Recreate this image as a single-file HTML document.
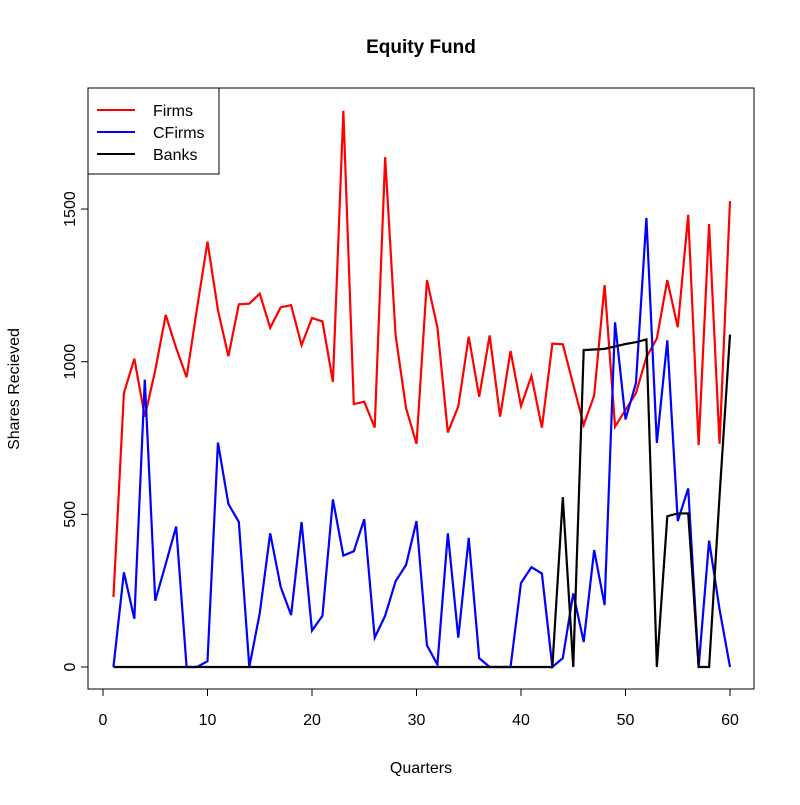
<!DOCTYPE html>
<html><head><meta charset="utf-8"><style>
body{margin:0;background:#fff}
svg text{font-family:"Liberation Sans",Arial,sans-serif;fill:#000}
</style></head><body>
<svg id="chart" width="800" height="800" viewBox="0 0 800 800">
<rect width="800" height="800" fill="#fff"/>
<text x="421" y="53" font-size="19" font-weight="bold" text-anchor="middle">Equity Fund</text>
<rect x="88" y="88" width="666" height="601" fill="none" stroke="#000" stroke-width="1"/>
<g id="xaxis"></g>
<g id="yaxis"></g>
<text x="421" y="773" font-size="16" text-anchor="middle">Quarters</text>
<text transform="translate(19,389) rotate(-90)" font-size="16" text-anchor="middle">Shares Recieved</text>
<g id="series"></g>
<g>
<rect x="88" y="88" width="131" height="86" fill="#fff" stroke="#000" stroke-width="1"/>
<line x1="97" y1="110" x2="135" y2="110" stroke="#f00" stroke-width="2"/>
<text x="153" y="116" font-size="16">Firms</text>
<line x1="97" y1="132" x2="135" y2="132" stroke="#00f" stroke-width="2"/>
<text x="153" y="138" font-size="16">CFirms</text>
<line x1="97" y1="154" x2="135" y2="154" stroke="#000" stroke-width="2"/>
<text x="153" y="160" font-size="16">Banks</text>
</g>
</svg>
<script>
const firms=[229,897,1010,820,972,1153,1045,949,1175,1393,1169,1018,1188,1190,1223,1111,1178,1185,1054,1143,1132,934,1822,861,869,784,1670,1086,848,731,1267,1113,768,854,1082,885,1086,820,1035,855,953,784,1059,1057,925,793,889,1251,787,842,897,1015,1076,1267,1113,1481,727,1451,731,1526];
const cfirms=[0,310,158,941,217,337,460,0,0,19,735,534,475,0,176,438,263,170,475,119,168,549,365,379,484,96,168,281,334,478,71,8,438,96,423,29,0,0,0,275,327,306,0,29,241,82,383,203,1129,811,930,1471,734,1070,478,585,0,414,189,0];
const banks=[0,0,0,0,0,0,0,0,0,0,0,0,0,0,0,0,0,0,0,0,0,0,0,0,0,0,0,0,0,0,0,0,0,0,0,0,0,0,0,0,0,0,0,556,0,1038,1040,1042,1050,1058,1064,1073,0,494,503,503,0,0,560,1089];
const xTicks=[0,10,20,30,40,50,60];
const yTicks=[0,500,1000,1500];
const NS="http://www.w3.org/2000/svg";
function xs(v){return 103+v*10.45;}
function ys(v){return 667-v*0.3053;}
const xa=document.getElementById('xaxis');
let l=document.createElementNS(NS,'line');
l.setAttribute('x1',xs(0));l.setAttribute('x2',xs(60));l.setAttribute('y1',689);l.setAttribute('y2',689);l.setAttribute('stroke','#000');


xa.appendChild(l);
xTicks.forEach(t=>{
 const tk=document.createElementNS(NS,'line');
 tk.setAttribute('x1',xs(t));tk.setAttribute('x2',xs(t));tk.setAttribute('y1',689);tk.setAttribute('y2',696);tk.setAttribute('stroke','#000');
 
 
 xa.appendChild(tk);
 const tx=document.createElementNS(NS,'text');
 tx.setAttribute('x',xs(t));tx.setAttribute('y',725);tx.setAttribute('font-size','16');tx.setAttribute('text-anchor','middle');tx.textContent=t;
 
 
 xa.appendChild(tx);
});
const ya=document.getElementById('yaxis');
l=document.createElementNS(NS,'line');
l.setAttribute('x1',88);l.setAttribute('x2',88);l.setAttribute('y1',ys(0));l.setAttribute('y2',ys(1500));l.setAttribute('stroke','#000');


ya.appendChild(l);
yTicks.forEach(t=>{
 const tk=document.createElementNS(NS,'line');
 tk.setAttribute('x1',81);tk.setAttribute('x2',88);tk.setAttribute('y1',ys(t));tk.setAttribute('y2',ys(t));tk.setAttribute('stroke','#000');
 
 
 ya.appendChild(tk);
 const tx=document.createElementNS(NS,'text');
 tx.setAttribute('transform','translate(75,'+ys(t)+') rotate(-90)');tx.setAttribute('font-size','16');tx.setAttribute('text-anchor','middle');tx.textContent=t;
 
 
 ya.appendChild(tx);
});
const sg=document.getElementById('series');
function draw(arr,color,name){
 const p=document.createElementNS(NS,'polyline');
 p.setAttribute('points',arr.map((v,i)=>xs(i+1)+','+ys(v)).join(' '));
 p.setAttribute('fill','none');p.setAttribute('stroke',color);p.setAttribute('stroke-width','2.2');p.setAttribute('stroke-linejoin','miter');
 
 
 sg.appendChild(p);
}
draw(firms,'#ff0000','firms-line');
draw(cfirms,'#0000ff','cfirms-line');
draw(banks,'#000000','banks-line');
</script>
</body></html>
